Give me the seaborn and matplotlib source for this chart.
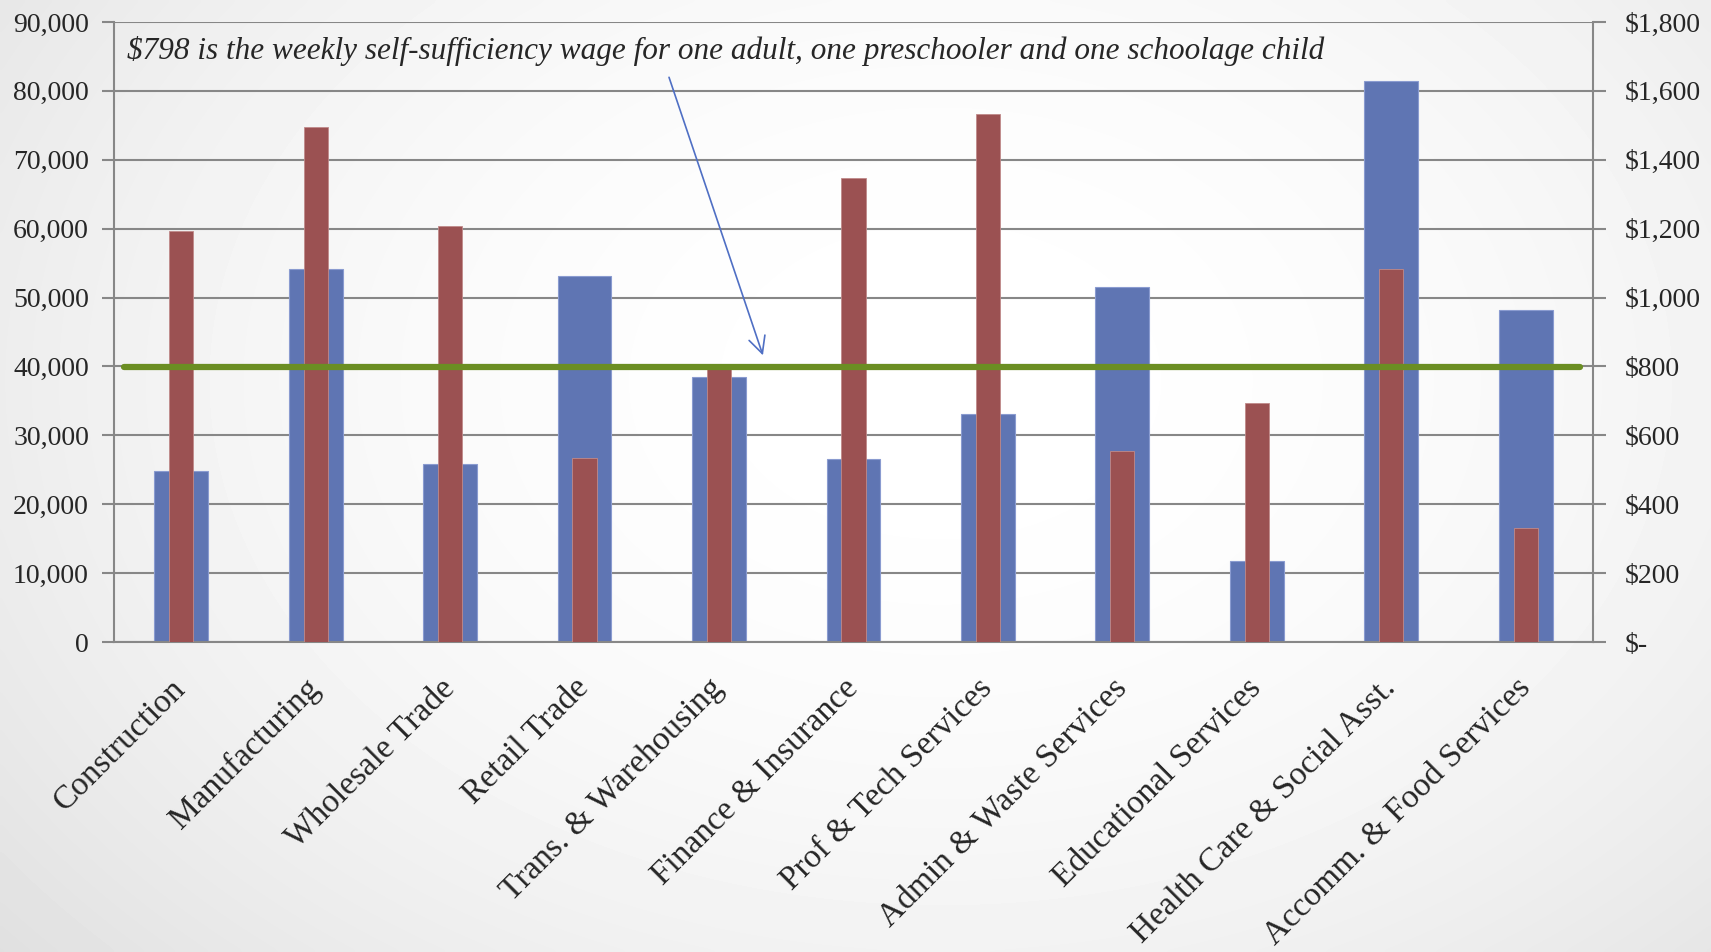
import numpy as np
import pandas as pd
import matplotlib
matplotlib.use("Agg")
import matplotlib.pyplot as plt
import seaborn as sns
from matplotlib.ticker import FuncFormatter

# ---- data -------------------------------------------------------------
industries = [
    "Construction", "Manufacturing", "Wholesale Trade", "Retail Trade",
    "Trans. & Warehousing", "Finance & Insurance", "Prof & Tech Services",
    "Admin & Waste Services", "Educational Services",
    "Health Care & Social Asst.", "Accomm. & Food Services",
]
employment = [24800, 54200, 25900, 53150, 38400, 26500, 33150, 51500, 11700, 81400, 48250]
weekly_wage = [1192, 1495, 1207, 535, 800, 1347, 1533, 555, 695, 1082, 331]
self_sufficiency_wage = 798
note = ("$798 is the weekly self-sufficiency wage for one adult, "
        "one preschooler and one schoolage child")
left_ticks = [0, 10000, 20000, 30000, 40000, 50000, 60000, 70000, 80000, 90000]
right_ticks = [0, 200, 400, 600, 800, 1000, 1200, 1400, 1600, 1800]

# ---- style ------------------------------------------------------------
BLUE = "#5f75b3"
RED = "#9b5152"
GREEN = "#6b8e23"
GRID = "#878787"
ARROW = "#4f6fc4"

sns.set_style("white")
plt.rcParams["font.family"] = ["Liberation Serif", "DejaVu Serif"]

fig = plt.figure(figsize=(17.11, 9.52), dpi=100)

# soft radial shading behind the chart
bg = fig.add_axes([0, 0, 1, 1], zorder=-10)
yy, xx = np.mgrid[0:1:240j, 0:1:430j]
r = np.sqrt(((xx - 0.55) / 0.62) ** 2 + ((yy - 0.6) / 0.8) ** 2)
shade = 1.0 - 0.09 * np.clip(r, 0, 1.4) ** 2
bg.imshow(shade, cmap="gray", vmin=0, vmax=1, aspect="auto",
          extent=[0, 1, 0, 1], interpolation="bicubic", origin="lower")
bg.axis("off")

ax = fig.add_axes([0.0666, 0.3256, 0.8644, 0.6513])
ax.set_facecolor("none")

df = pd.DataFrame({"industry": industries, "employment": employment,
                   "wage": weekly_wage})

sns.barplot(data=df, x="industry", y="employment", color=BLUE, saturation=1,
            width=0.4, ax=ax, edgecolor="#8a9bd0", linewidth=0.8)
ax2 = ax.twinx()
sns.barplot(data=df, x="industry", y="wage", color=RED, saturation=1,
            width=0.18, ax=ax2, edgecolor="#c08a8a", linewidth=0.6)

ax.set_xlim(-0.5, len(industries) - 0.5)
ax.set_ylim(0, 90000)
ax2.set_ylim(0, 1800)
ax.set_yticks(left_ticks)
ax2.set_yticks(right_ticks)
ax.yaxis.set_major_formatter(FuncFormatter(lambda v, p: f"{v:,.0f}"))
ax2.yaxis.set_major_formatter(
    FuncFormatter(lambda v, p: "$-" if v == 0 else f"${v:,.0f}"))

# gridlines behind bars
ax.set_axisbelow(True)
ax.yaxis.grid(True, color=GRID, linewidth=1.5)
ax.xaxis.grid(False)
ax2.grid(False)

for side in ["top", "right"]:
    ax.spines[side].set_visible(False)
for side in ["top", "left", "bottom"]:
    ax2.spines[side].set_visible(False)
for sp in [ax.spines["left"], ax.spines["bottom"], ax2.spines["right"]]:
    sp.set_color(GRID)
    sp.set_linewidth(1.5)

# category boundary ticks on the x axis
ax.set_xticks(np.arange(-0.5, len(industries), 1), minor=True)
ax.tick_params(axis="x", which="minor", length=9, width=1.5, color=GRID,
               direction="out")
ax.tick_params(axis="x", which="major", length=0, pad=30, labelsize=24)
ax.tick_params(axis="y", length=9, width=1.5, color=GRID, direction="out",
               labelsize=20, pad=9, left=True)
ax2.tick_params(axis="y", length=9, width=1.5, color=GRID, direction="out",
                labelsize=20, pad=14, right=True)
for lab in ax.get_xticklabels():
    lab.set_rotation(45)
    lab.set_ha("right")
    lab.set_va("center")
    lab.set_rotation_mode("anchor")

ax.set_xlabel("")
ax.set_ylabel("")
ax2.set_ylabel("")

# self-sufficiency wage line
ax2.axhline(self_sufficiency_wage, xmin=0.007, xmax=0.991, color=GREEN,
            linewidth=4.5, zorder=6)

ax.text(0.009, 0.953, note, transform=ax.transAxes, style="italic",
        fontsize=22.5, ha="left", va="center", zorder=7)
ax2.annotate("", xy=(0.4388, 0.4624), xycoords="axes fraction",
             xytext=(0.3753, 0.9108), textcoords="axes fraction",
             arrowprops=dict(arrowstyle="->", color=ARROW, lw=1.2,
                             mutation_scale=30, shrinkA=0, shrinkB=0),
             zorder=7)

fig.savefig("out.png", dpi=100)
